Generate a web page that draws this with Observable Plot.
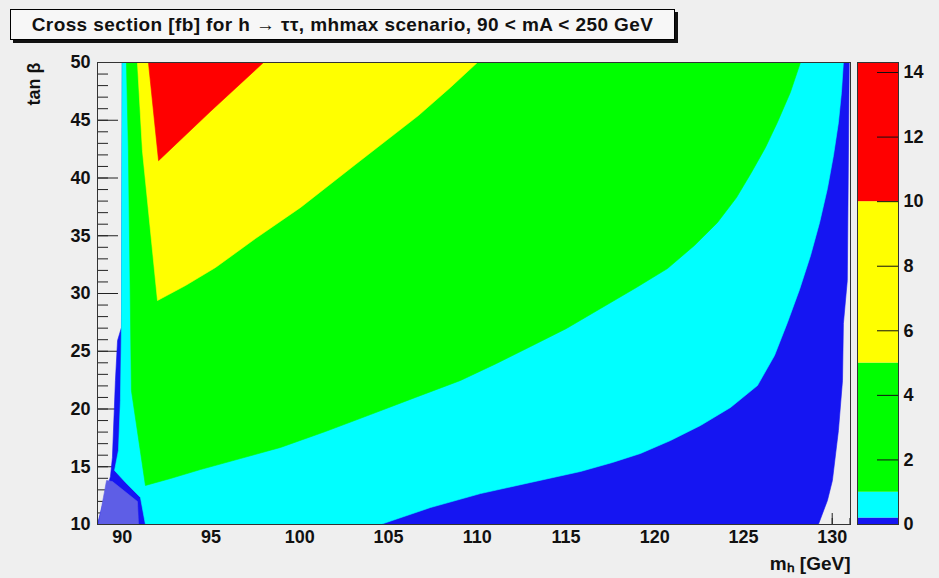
<!DOCTYPE html>
<html><head><meta charset="utf-8">
<script src="https://cdn.jsdelivr.net/npm/d3@7"></script>
<script src="https://cdn.jsdelivr.net/npm/@observablehq/plot@0.6"></script>
<style>
html,body{margin:0;padding:0;background:#efefef;}
#root{position:relative;width:939px;height:578px;overflow:hidden;font-family:"Liberation Sans",Arial,Helvetica,sans-serif;}
#title{position:absolute;left:10px;top:9px;width:663px;height:29px;border:1px solid #000;box-shadow:3px 3px 0 #111;background:#f7f7f7;font-weight:bold;font-size:19px;letter-spacing:0.4px;line-height:29px;text-align:center;color:#111;white-space:nowrap;}
#main,#cbar{position:absolute;top:0;}
#main{left:0;}
#cbar{left:850px;}
</style></head><body>
<div id="root"><div id="main"></div><div id="cbar"></div><div id="title">Cross section [fb] for h → ττ, mhmax scenario, 90 &lt; mA &lt; 250 GeV</div></div>
<script>
// ---- axis ticks ----
const xTicks = [90, 95, 100, 105, 110, 115, 120, 125, 130];
const xMinor = d3.range(89, 132, 1);
const yTicks = [10, 15, 20, 25, 30, 35, 40, 45, 50];
const yMinor = d3.range(10, 51, 1);
const zTicks = [0, 2, 4, 6, 8, 10, 12, 14];

// ---- contour levels (colour bar) ----
const levels = [0, 0.2, 1, 5, 10, 14.31];
const levelColors = ["#1515f2", "#00ffff", "#00ff00", "#ffff00", "#ff0000"];
const underColor = "#5e5ee6";

// ---- region boundaries (mh [GeV], tan beta) ----
// data domain (sigma >= 0)
const domainMh = [90.0, 89.96, 89.74, 89.62, 89.45, 89.34, 88.64, 88.61, 129.22, 129.73, 130.01, 130.35, 130.58, 130.63, 130.85, 130.96];
const domainTb = [50, 27.06, 25.93, 22.47, 15.80, 14.16, 10.22, 10, 10, 12.08, 13.81, 18.14, 22.47, 27.4, 31.13, 50];
// sigma >= 0.2
const cyanMh = [90.0, 89.96, 89.90, 89.79, 89.57, 90.19, 91.03, 91.31,
  104.55, 107.37, 110.19, 113.01, 115.82, 117.62, 119.20, 120.89, 122.58, 124.27, 125.79,
  126.75, 127.48, 128.16, 128.78, 129.29, 129.73, 130.07, 130.35, 130.52, 130.63];
const cyanTb = [50, 27.06, 20.74, 16.41, 14.68, 13.64, 12.34, 10,
  10, 11.47, 12.68, 13.64, 14.59, 15.37, 16.15, 17.27, 18.57, 20.13, 22.03,
  24.63, 27.49, 30.35, 33.29, 36.15, 39.09, 41.95, 44.81, 47.40, 50];
// sigma >= 1
const greenMh = [90.24, 90.35, 90.52, 91.31, 92.72, 94.41, 96.66, 98.92, 101.45, 103.99, 106.52, 109.06,
  111.09, 113.01, 115.03, 116.95, 118.97, 120.72, 122.24, 123.54, 124.61, 125.45, 126.24, 126.91, 127.64, 128.21];
const greenTb = [50, 42.38, 21.60, 13.38, 13.98, 14.76, 15.71, 16.67, 18.05, 19.52, 21.0, 22.47,
  23.94, 25.41, 26.97, 28.70, 30.52, 32.16, 34.16, 36.15, 38.31, 40.48, 42.64, 44.81, 47.40, 50];
// sigma >= 5
const yellowMh = [90.86, 91.14, 91.99, 93.57, 95.26, 97.51, 100.05, 103.14, 106.69, 108.49, 110.01];
const yellowTb = [50, 42.38, 29.39, 30.69, 32.25, 34.76, 37.45, 41.17, 45.41, 47.84, 50];
// sigma >= 10
const redMh = [91.48, 92.05, 95.0, 97.96];
const redTb = [50, 41.5, 45.8, 50];
// underflow patch (bottom left)
const underMh = [88.66, 89.12, 89.45, 90.86, 90.92];
const underTb = [10, 13.81, 13.72, 11.99, 10];

const toPts = (mh, tb) => mh.map((m, i) => ({mh: m, tb: tb[i]}));
const regions = [
  {pts: toPts(domainMh, domainTb), color: levelColors[0]},
  {pts: toPts(cyanMh, cyanTb), color: levelColors[1]},
  {pts: toPts(greenMh, greenTb), color: levelColors[2]},
  {pts: toPts(yellowMh, yellowTb), color: levelColors[3]},
  {pts: toPts(redMh, redTb), color: levelColors[4]},
  {pts: toPts(underMh, underTb), color: underColor}
];

const W = 939, H = 578;
const mL = 97, mR = 89, mT = 62, mB = 54;
const fw = W - mL - mR, fh = H - mT - mB;
const font = {background: "transparent", fontFamily: "'Liberation Sans', Arial, Helvetica, sans-serif", fontSize: "18px", fontWeight: "bold", color: "#111", overflow: "visible"};

const main = Plot.plot({
  width: W, height: H,
  marginLeft: mL, marginRight: mR, marginTop: mT, marginBottom: mB,
  style: font,
  x: {domain: [88.61, 131.03]},
  y: {domain: [10, 50]},
  marks: [
    Plot.tickY(yMinor, {y: d => d, insetRight: fw - 11, stroke: "#222"}),
    Plot.tickY(yTicks, {y: d => d, insetRight: fw - 21, stroke: "#222"}),
    Plot.tickX(xMinor, {x: d => d, insetTop: fh - 6, stroke: "#222"}),
    Plot.tickX(xTicks, {x: d => d, insetTop: fh - 11, stroke: "#222"}),
    ...regions.map(r => Plot.line(r.pts, {x: "mh", y: "tb", fill: r.color, stroke: r.color, strokeWidth: 0.6})),
    Plot.frame({stroke: "#333"}),
    Plot.axisX(xTicks, {tickSize: 0, tickPadding: 6, label: null}),
    Plot.axisY(yTicks, {tickSize: 0, tickPadding: 7, label: null}),
    Plot.text(["mₕ [GeV]"], {text: d => d, frameAnchor: "bottom-right", textAnchor: "end", lineAnchor: "bottom", dy: 45, fontSize: 19}),
    Plot.text(["tan β"], {text: d => d, frameAnchor: "top-left", rotate: -90, textAnchor: "end", dx: -70})
  ]
});
document.getElementById("main").append(main);

const bands = levelColors.map((c, i) => ({lo: levels[i], hi: levels[i + 1], color: c}));
const cbar = Plot.plot({
  width: 89, height: H,
  marginLeft: 7, marginRight: 41, marginTop: mT, marginBottom: mB,
  style: font,
  color: {type: "identity"},
  y: {domain: [levels[0], levels[levels.length - 1]]},
  marks: [
    Plot.rect(bands, {y1: "lo", y2: "hi", fill: "color"}),
    Plot.tickY(zTicks, {y: d => d, insetLeft: 41 - 21, stroke: "#111"}),
    Plot.frame({stroke: "#333"}),
    Plot.axisY(zTicks, {anchor: "right", tickSize: 0, tickPadding: 5, label: null})
  ]
});
document.getElementById("cbar").append(cbar);
</script>
</body></html>
